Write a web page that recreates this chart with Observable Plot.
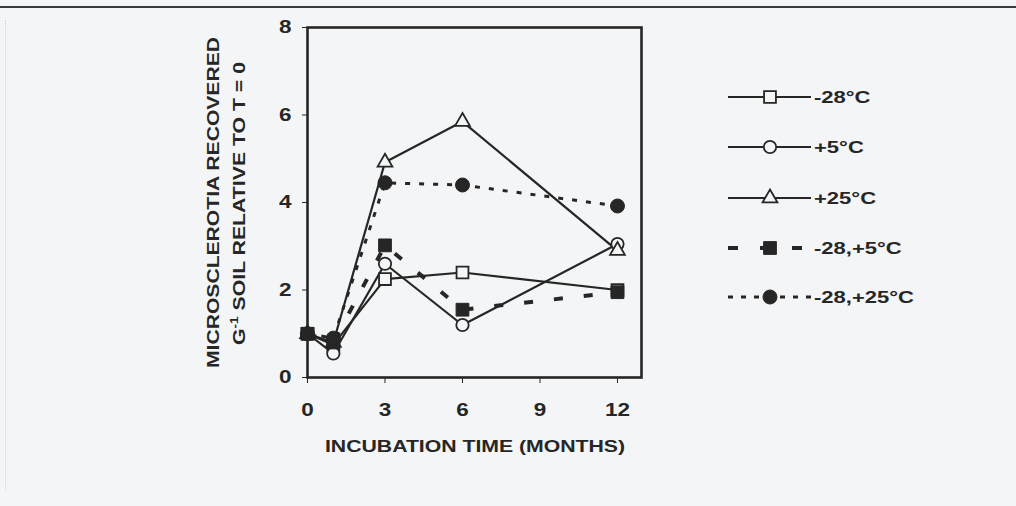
<!DOCTYPE html>
<html><head><meta charset="utf-8">
<script src="https://cdn.jsdelivr.net/npm/d3@7"></script>
<script src="https://cdn.jsdelivr.net/npm/@observablehq/plot@0.6"></script>
<style>
html,body{margin:0;padding:0;background:#f4f5f6;}
#wrap{position:relative;width:1016px;height:506px;overflow:hidden;}
#rule{position:absolute;left:0;top:6px;width:1016px;height:2px;background:#3a3a3a;}
#vline{position:absolute;left:5px;top:20px;height:470px;border-left:1px dotted #d2d2d2;}
#chart{position:absolute;left:0;top:0;}
</style></head><body>
<div id="wrap"><div id="rule"></div><div id="vline"></div><div id="chart"></div></div>
<script>
// ---- data ----
const months = [0, 1, 3, 6, 12];
const seriesNames = ["-28°C", "+5°C", "+25°C", "-28,+5°C", "-28,+25°C"];
const valsMinus28 = [1.0, 0.75, 2.25, 2.4, 2.0];
const valsPlus5 = [1.0, 0.55, 2.6, 1.2, 3.05];
const valsPlus25 = [1.0, 0.8, 4.92, 5.85, 2.9];
const valsMinus28Plus5 = [1.0, 0.8, 3.02, 1.55, 1.95];
const valsMinus28Plus25 = [1.0, 0.9, 4.45, 4.4, 3.92];
const xTicks = [0, 3, 6, 9, 12];
const yTicks = [0, 2, 4, 6, 8];
const xTitle = "INCUBATION TIME (MONTHS)";
const yTitle1 = "MICROSCLEROTIA RECOVERED";
const yTitle2a = "G";
const yTitle2sup = "-1";
const yTitle2b = " SOIL RELATIVE TO T = 0";

// ---- styles ----
const ink = "#262626";
const paper = "#f4f5f6";
const FONT = "'Liberation Sans', Arial, sans-serif";
const styleOf = {
  "-28°C":     {symbol: "square",   open: true,  r: 6.7, dash: null,    width: 2.2},
  "+5°C":      {symbol: "circle",   open: true,  r: 6.2, dash: null,    width: 2.2},
  "+25°C":     {symbol: "triangle", open: true,  r: 5.5, dash: null,    width: 2.2},
  "-28,+5°C":  {symbol: "square",   open: false, r: 7.2, dash: "9,21",  width: 4},
  "-28,+25°C": {symbol: "circle",   open: false, r: 7.0, dash: "5,9",   width: 3}
};
const valuesBySeries = [valsMinus28, valsPlus5, valsPlus25, valsMinus28Plus5, valsMinus28Plus25];
const rowsBySeries = seriesNames.map((s, k) => months.map((m, i) => ({series: s, month: m, value: valuesBySeries[k][i]})));

const lineMarks = seriesNames.map((s, k) => {
  const st = styleOf[s];
  return Plot.line(rowsBySeries[k], {x: "month", y: "value", stroke: ink, strokeWidth: st.width,
    strokeDasharray: st.dash || undefined, strokeLinecap: "butt", strokeLinejoin: "round"});
});
const dotOrder = [0, 1, 2, 4, 3];
const dotMarks = dotOrder.map(k => {
  const s = seriesNames[k], st = styleOf[s];
  return Plot.dot(rowsBySeries[k], {x: "month", y: "value", symbol: st.symbol, r: st.r,
    fill: st.open ? paper : ink, stroke: ink, strokeWidth: st.open ? 1.8 : 1});
});

const chart = Plot.plot({
  width: 1016, height: 506,
  marginLeft: 307, marginRight: 375, marginTop: 27, marginBottom: 129,
  x: {domain: [0, 12.93], ticks: xTicks, tickSize: 6, tickPadding: 20, label: null, tickFormat: d => String(d)},
  y: {domain: [0, 8], ticks: yTicks, tickSize: 5, tickPadding: 11, label: null, tickFormat: d => String(d)},
  style: {background: "transparent", fontFamily: FONT, fontSize: "18px", fontWeight: "bold", color: ink, overflow: "visible"},
  marks: [
    ...lineMarks,
    ...dotMarks,
    Plot.frame({stroke: ink, strokeWidth: 2.6})
  ]
});
document.getElementById("chart").appendChild(chart);

// widen tick labels (the original uses an extended bold face)
chart.querySelectorAll('g[aria-label$="tick label"] text').forEach(t => {
  const tr = t.getAttribute("transform") || "";
  t.setAttribute("transform", tr + " scale(1.25,1)");
});

const svg = d3.select(chart);
function fitText(sel, target) {
  const w = sel.node().getComputedTextLength();
  return target / w;
}
// x title
const xt = svg.append("text").attr("text-anchor", "middle").attr("font-family", FONT)
  .attr("font-weight", "bold").attr("font-size", 16.8).attr("fill", ink).text(xTitle);
const sx = fitText(xt, 300);
xt.attr("transform", `translate(475,452) scale(${sx},1)`);

// y title, two lines
const y1 = svg.append("text").attr("text-anchor", "middle").attr("font-family", FONT)
  .attr("font-weight", "bold").attr("font-size", 16.4).attr("fill", ink).text(yTitle1);
const s1 = fitText(y1, 331);
y1.attr("transform", `translate(218.5,202.5) rotate(-90) scale(${s1},1)`);

const y2 = svg.append("text").attr("text-anchor", "middle").attr("font-family", FONT)
  .attr("font-weight", "bold").attr("font-size", 16.4).attr("fill", ink);
y2.append("tspan").text(yTitle2a);
y2.append("tspan").attr("font-size", 10.5).attr("dy", -7).text(yTitle2sup);
y2.append("tspan").attr("dy", 7).text(yTitle2b);
const s2 = fitText(y2, 283);
y2.attr("transform", `translate(245,203.5) rotate(-90) scale(${s2},1)`);

// legend
const legRows = [97, 147, 198, 248, 297];
const symType = {square: d3.symbolSquare, circle: d3.symbolCircle, triangle: d3.symbolTriangle};
const leg = svg.append("g").attr("aria-label", "legend");
seriesNames.forEach((s, k) => {
  const st = styleOf[s], y = legRows[k];
  const dashLeg = k === 3 ? "10,22" : (k === 4 ? "5,8" : null);
  const ln = leg.append("line").attr("x1", 728).attr("x2", 811).attr("y1", y).attr("y2", y)
    .attr("stroke", ink).attr("stroke-width", st.width);
  if (dashLeg) ln.attr("stroke-dasharray", dashLeg);
  leg.append("path").attr("transform", `translate(770,${y})`)
    .attr("d", d3.symbol().type(symType[st.symbol]).size(Math.PI * st.r * st.r)())
    .attr("fill", st.open ? paper : ink).attr("stroke", ink).attr("stroke-width", st.open ? 1.8 : 1);
  leg.append("text").attr("text-anchor", "start").attr("font-family", FONT).attr("font-weight", "bold")
    .attr("font-size", 17.2).attr("fill", ink)
    .attr("transform", `translate(814,${y + 6.3}) scale(1.28,1)`).text(s);
});
</script>
</body></html>
